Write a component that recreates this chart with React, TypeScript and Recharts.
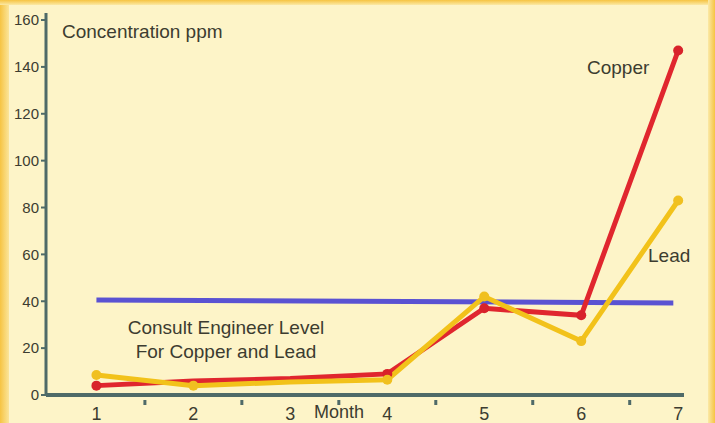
import { Line, LineChart, ReferenceLine, XAxis, YAxis } from "recharts";

const months = [1, 2, 3, 4, 5, 6, 7];
const copper = [4, 6, 7, 9, 37, 34, 147];
const lead = [8.5, 4, 5.5, 6.5, 42, 23, 83];
const engineerLevel = [40.5, 39.3];
const engineerRange = [1, 6.95];
const xTicks = [1, 1.5, 2, 2.5, 3, 3.5, 4, 4.5, 5, 5.5, 6, 6.5, 7];
const yTicks = [0, 20, 40, 60, 80, 100, 120, 140, 160];

const data = months.map((m, i) => ({
  month: m,
  copper: copper[i],
  lead: lead[i],
}));

const AXIS = "#4f6a68";
const FONT = "'Liberation Sans', Arial, sans-serif";
const NARROW = "'Liberation Sans Narrow', 'Liberation Sans', Arial, sans-serif";
const INK = "#3c3c30";

function MonthTick(props: any) {
  const { x, y, payload } = props;
  const v = payload.value as number;
  if (Number.isInteger(v)) {
    return (
      <text
        x={x}
        y={y + 17}
        textAnchor="middle"
        fontSize={18}
        fontFamily={FONT}
        fill={INK}
      >
        {v}
      </text>
    );
  }
  return <rect x={x - 1.5} y={y - 3} width={3} height={5} fill={AXIS} />;
}

// markers are drawn at every point except where the original shows none
function makeDot(color: string, skip: number[]) {
  return (props: any) => {
    const { cx, cy, payload, index } = props;
    if (skip.includes(payload.month)) return <g key={index} />;
    return <circle key={index} cx={cx} cy={cy} r={5} fill={color} />;
  };
}

function App() {
  return (
    <div
      style={{
        position: "absolute",
        left: 0,
        top: 0,
        width: 715,
        height: 423,
        background: "#fdf4c8",
        fontFamily: FONT,
        overflow: "hidden",
      }}
    >
      <div
        style={{
          position: "absolute",
          left: 0,
          top: 0,
          width: 9,
          height: 423,
          background: "linear-gradient(to right, #f6c443, #fbe59a)",
        }}
      />
      <div
        style={{
          position: "absolute",
          left: 0,
          top: 0,
          width: 715,
          height: 5,
          background: "linear-gradient(to bottom, #f6c443, #fbe9a6)",
        }}
      />
      <div
        style={{
          position: "absolute",
          right: 0,
          top: 0,
          width: 7,
          height: 423,
          background: "linear-gradient(to left, #f6c443, #fbe9a6)",
        }}
      />
      <LineChart
        width={715}
        height={423}
        data={data}
        margin={{ top: 13, right: 31, bottom: 0, left: 0 }}
        style={{ position: "absolute", left: 0, top: 0 }}
      >
        <XAxis
          dataKey="month"
          type="number"
          domain={[0.48, 7.06]}
          ticks={xTicks}
          interval={0}
          tick={<MonthTick />}
          tickLine={false}
          axisLine={{ stroke: AXIS, strokeWidth: 4 }}
          height={28}
          allowDataOverflow
        />
        <YAxis
          type="number"
          domain={[0, 163]}
          ticks={yTicks}
          interval={0}
          width={46}
          tick={{ fontSize: 15, fill: INK, fontFamily: NARROW }}
          tickLine={{ stroke: AXIS, strokeWidth: 2 }}
          tickSize={5}
          axisLine={{ stroke: AXIS, strokeWidth: 3 }}
          allowDataOverflow
        />
        <ReferenceLine
          segment={[
            { x: engineerRange[0], y: engineerLevel[0] },
            { x: engineerRange[1], y: engineerLevel[1] },
          ]}
          stroke="#5a52d2"
          strokeWidth={5}
        />
        <Line
          dataKey="copper"
          stroke="#e0262e"
          strokeWidth={5}
          dot={makeDot("#d8222a", [2, 3])}
          isAnimationActive={false}
        />
        <Line
          dataKey="lead"
          stroke="#f2c21a"
          strokeWidth={5}
          dot={makeDot("#f0c020", [3])}
          isAnimationActive={false}
        />
      </LineChart>
      <div style={{ position: "absolute", left: 62, top: 21, fontSize: 19, color: INK }}>
        Concentration ppm
      </div>
      <div style={{ position: "absolute", left: 587, top: 57, fontSize: 19, color: INK }}>
        Copper
      </div>
      <div style={{ position: "absolute", left: 648, top: 245, fontSize: 19, color: INK }}>
        Lead
      </div>
      <div
        style={{
          position: "absolute",
          left: 96,
          top: 316,
          width: 260,
          textAlign: "center",
          fontSize: 19,
          lineHeight: "24px",
          color: INK,
        }}
      >
        Consult Engineer Level
        <br />
        For Copper and Lead
      </div>
      <div style={{ position: "absolute", left: 314, top: 402, fontSize: 18, color: INK }}>
        Month
      </div>
    </div>
  );
}

export default App;
